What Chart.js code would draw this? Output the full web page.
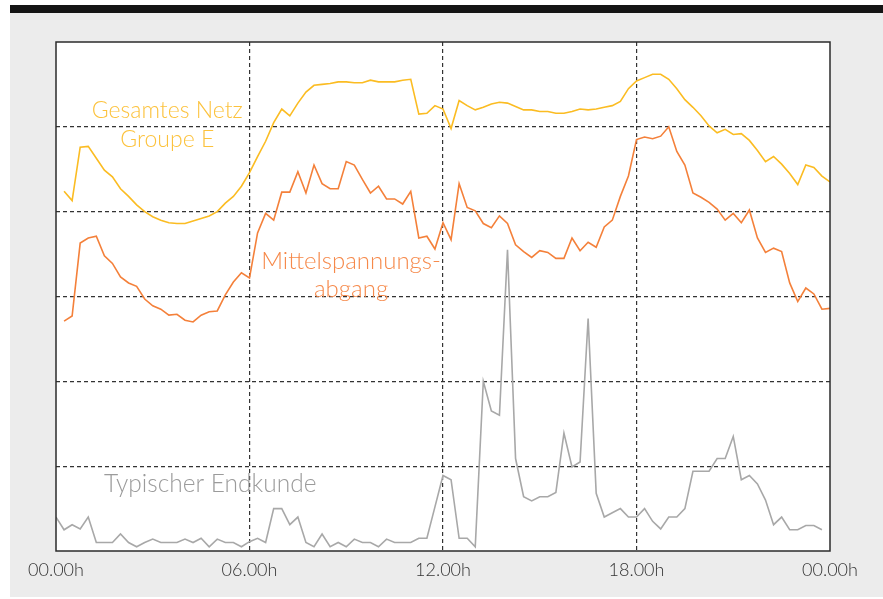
<!DOCTYPE html>
<html>
<head>
<meta charset="utf-8">
<script src="https://cdn.jsdelivr.net/npm/chart.js@4/dist/chart.umd.min.js"></script>
<style>
    html, body { margin: 0; padding: 0; background: #ffffff; }
    #frame {
        position: absolute; left: 10px; top: 5px; width: 873px; height: 584px;
        border-top: 8px solid #141414; background: #ececec;
    }
    #chart { position: absolute; left: 0; top: 0; }
</style>
</head>
<body>
<div id="frame"></div>
<canvas id="chart" width="883" height="599"></canvas>
<script>
// Tick labels at 0, 6, 12, 18, 24 h
const hourLabels = ['00.00h', '06.00h', '12.00h', '18.00h', '00.00h'];

// Gesamtes Netz Groupe E, 00:15 .. 24:00 (quarter hours)
const netzValues = [
    4.24, 4.13, 4.76, 4.77, 4.63, 4.49, 4.41, 4.27, 4.18, 4.08, 4.00, 3.94,
    3.90, 3.87, 3.86, 3.86, 3.89, 3.92, 3.95, 4.00, 4.10, 4.18, 4.30, 4.46,
    4.65, 4.83, 5.05, 5.21, 5.13, 5.28, 5.41, 5.49, 5.50, 5.51, 5.53, 5.53,
    5.52, 5.52, 5.55, 5.53, 5.53, 5.53, 5.55, 5.56, 5.15, 5.16, 5.25, 5.21,
    4.98, 5.31, 5.25, 5.20, 5.23, 5.27, 5.29, 5.28, 5.24, 5.20, 5.20, 5.18,
    5.18, 5.16, 5.16, 5.18, 5.21, 5.20, 5.21, 5.23, 5.25, 5.30, 5.45, 5.54,
    5.58, 5.62, 5.62, 5.56, 5.45, 5.32, 5.23, 5.13, 5.01, 4.93, 4.97, 4.91,
    4.92, 4.84, 4.72, 4.59, 4.65, 4.56, 4.45, 4.32, 4.55, 4.52, 4.42, 4.35
];

// Mittelspannungsabgang, 00:15 .. 24:00
const abgangValues = [
    2.71, 2.77, 3.63, 3.69, 3.71, 3.48, 3.39, 3.23, 3.16, 3.12, 2.97, 2.89,
    2.85, 2.78, 2.79, 2.72, 2.70, 2.78, 2.82, 2.83, 3.02, 3.17, 3.28, 3.22,
    3.75, 3.98, 3.90, 4.23, 4.23, 4.47, 4.22, 4.55, 4.33, 4.27, 4.27, 4.59,
    4.55, 4.38, 4.22, 4.30, 4.15, 4.15, 4.09, 4.24, 3.69, 3.71, 3.56, 3.87,
    3.67, 4.33, 4.05, 4.01, 3.86, 3.81, 3.95, 3.86, 3.61, 3.53, 3.46, 3.54,
    3.52, 3.45, 3.45, 3.69, 3.54, 3.64, 3.58, 3.82, 3.90, 4.18, 4.42, 4.85,
    4.88, 4.86, 4.89, 5.00, 4.71, 4.55, 4.22, 4.17, 4.11, 4.03, 3.90, 3.98,
    3.87, 4.02, 3.69, 3.52, 3.57, 3.53, 3.16, 2.94, 3.10, 3.03, 2.85, 2.86
];

// Typischer Endkunde, 00:00 .. 23:45
const kundeValues = [
    0.40, 0.25, 0.31, 0.26, 0.40, 0.10, 0.10, 0.10, 0.20, 0.10, 0.05, 0.10,
    0.14, 0.10, 0.10, 0.10, 0.14, 0.10, 0.15, 0.05, 0.14, 0.10, 0.10, 0.05,
    0.11, 0.15, 0.10, 0.50, 0.50, 0.31, 0.40, 0.10, 0.05, 0.20, 0.05, 0.10,
    0.05, 0.14, 0.10, 0.10, 0.05, 0.14, 0.10, 0.10, 0.10, 0.15, 0.15, 0.52,
    0.89, 0.84, 0.15, 0.15, 0.05, 2.00, 1.65, 1.60, 3.55, 1.09, 0.64, 0.59,
    0.64, 0.64, 0.69, 1.39, 0.99, 1.05, 2.74, 0.68, 0.40, 0.45, 0.50, 0.40,
    0.40, 0.50, 0.35, 0.26, 0.40, 0.40, 0.50, 0.94, 0.94, 0.94, 1.09, 1.09,
    1.35, 0.84, 0.89, 0.79, 0.60, 0.31, 0.40, 0.25, 0.25, 0.30, 0.30, 0.25
];

// quarter-hour time axis: offset 1 => series starts at 00:15
function toPoints(values, offset) {
    return values.map((v, i) => ({ x: (i + offset) / 4, y: v }));
}

document.addEventListener('DOMContentLoaded', function() {
    const ctx = document.getElementById('chart').getContext('2d');

    // White plot area, black frame, series captions
    const decor = {
        id: 'decor',
        beforeDraw(chart) {
            const a = chart.chartArea, c = chart.ctx;
            c.save();
            c.fillStyle = '#ffffff';
            c.fillRect(a.left, a.top, a.right - a.left, a.bottom - a.top);
            c.restore();
        },
        afterDraw(chart) {
            const a = chart.chartArea, c = chart.ctx;
            const x = chart.scales.x, y = chart.scales.y;
            c.save();
            c.strokeStyle = '#2b2b2b';
            c.lineWidth = 1.5;
            c.strokeRect(a.left, a.top, a.right - a.left, a.bottom - a.top);

            c.textBaseline = 'middle';
            c.textAlign = 'center';
            c.font = '300 23px Lato, "Open Sans", sans-serif';
            c.fillStyle = '#fcc23c';
            c.fillText('Gesamtes Netz', x.getPixelForValue(3.45), y.getPixelForValue(5.19));
            c.fillText('Groupe E', x.getPixelForValue(3.45), y.getPixelForValue(4.85));
            c.font = '300 24px Lato, "Open Sans", sans-serif';
            c.fillStyle = '#f6894a';
            c.fillText('Mittelspannungs-', x.getPixelForValue(9.15), y.getPixelForValue(3.41));
            c.fillText('abgang', x.getPixelForValue(9.15), y.getPixelForValue(3.08));
            c.textAlign = 'left';
            c.font = '300 24.5px Lato, "Open Sans", sans-serif';
            c.fillStyle = '#9b9b9b';
            c.fillText('Typischer Endkunde', x.getPixelForValue(1.49), y.getPixelForValue(0.79));
            c.restore();
        }
    };

    new Chart(ctx, {
        type: 'line',
        data: {
            datasets: [
                {
                    label: 'Typischer Endkunde',
                    data: toPoints(kundeValues, 0),
                    borderColor: '#a8a8a8',
                    borderWidth: 1.6
                },
                {
                    label: 'Mittelspannungsabgang',
                    data: toPoints(abgangValues, 1),
                    borderColor: '#f4803a',
                    borderWidth: 1.6
                },
                {
                    label: 'Gesamtes Netz Groupe E',
                    data: toPoints(netzValues, 1),
                    borderColor: '#fbbc22',
                    borderWidth: 1.6
                }
            ]
        },
        options: {
            responsive: false,
            animation: false,
            devicePixelRatio: 1,
            elements: { point: { radius: 0 }, line: { tension: 0 } },
            layout: { padding: { left: 56, right: 53, top: 42, bottom: 0 } },
            plugins: {
                legend: { display: false },
                tooltip: { enabled: false }
            },
            scales: {
                x: {
                    type: 'linear',
                    min: 0,
                    max: 24,
                    afterFit: function(scale) { scale.height = 48; },
                    ticks: {
                        stepSize: 6,
                        padding: 8,
                        color: '#333333',
                        font: { family: 'Lato, "Open Sans", sans-serif', size: 18, weight: '300' },
                        callback: function(value) { return hourLabels[value / 6]; }
                    },
                    grid: {
                        drawTicks: false,
                        lineWidth: 1.2,
                        color: function(c) {
                            const v = c.tick && c.tick.value;
                            return (v > 0 && v < 24) ? '#333333' : 'rgba(0,0,0,0)';
                        }
                    },
                    border: { display: false, dash: [4, 3] }
                },
                y: {
                    min: 0,
                    max: 6,
                    afterFit: function(scale) { scale.width = 0; },
                    ticks: { display: false, stepSize: 1 },
                    grid: {
                        drawTicks: false,
                        lineWidth: 1.2,
                        color: function(c) {
                            const v = c.tick && c.tick.value;
                            return (v > 0 && v < 6) ? '#333333' : 'rgba(0,0,0,0)';
                        }
                    },
                    border: { display: false, dash: [4, 3] }
                }
            }
        },
        plugins: [decor]
    });
});
</script>
</body>
</html>
